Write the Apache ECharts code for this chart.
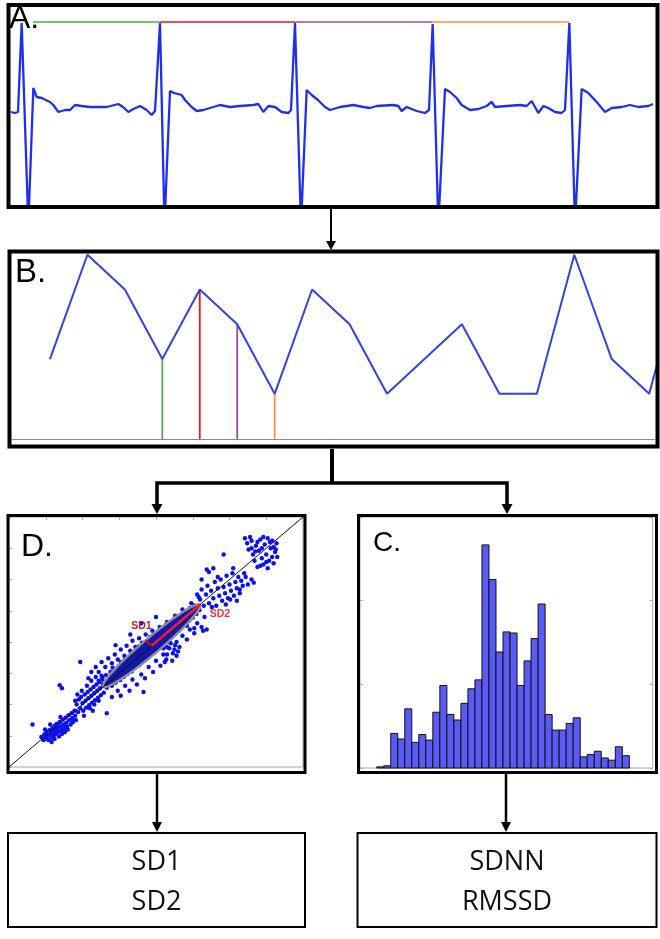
<!DOCTYPE html>
<html><head><meta charset="utf-8">
<script src="https://cdn.jsdelivr.net/npm/echarts@6/dist/echarts.min.js"></script>
<style>html,body{margin:0;padding:0;background:#fff}#c{width:660px;height:939px}</style>
</head><body><div id="c"></div>
<script>
// ---------- DATA ----------
// A. ECG trace: [time ms, amplitude mV]
const ecgTrace = [
[0,-0.02],[24,-0.03],[42,-0.02],[64,0.87],[104,-1.15],[134,0.22],[154,0.13],[184,0.12],[234,0.08],[254,0.05],[284,-0.02],[324,0.00],[354,0.00],[384,0.05],[424,0.04],[474,0.03],[514,0.03],[574,0.03],[644,0.06],[672,0.03],[704,-0.02],[734,0.01],[774,0.04],[814,0.00],[844,-0.05],[864,-0.01],
[894,0.87],[921,-1.15],[954,0.19],[978,0.17],[1024,0.15],[1044,0.10],[1084,0.03],[1114,-0.01],[1154,0.00],[1194,0.02],[1254,0.05],[1314,0.03],[1374,0.04],[1454,0.05],[1484,0.06],[1514,-0.02],[1544,0.04],[1584,0.03],[1624,-0.02],[1664,-0.03],[1680,0.00],
[1704,0.87],[1740,-1.15],[1774,0.20],[1804,0.15],[1842,0.10],[1884,0.03],[1914,0.00],[1974,0.03],[2054,0.05],[2114,0.03],[2154,0.02],[2194,0.04],[2294,0.05],[2324,0.04],[2344,-0.01],[2374,0.03],[2434,-0.01],[2484,-0.03],[2508,0.00],
[2530,0.86],[2564,-1.15],[2604,0.21],[2634,0.18],[2674,0.12],[2704,0.05],[2754,0.00],[2804,0.01],[2854,0.04],[2884,0.08],[2904,0.03],[2974,0.04],[3054,0.05],[3094,0.04],[3124,0.09],[3144,0.03],[3164,-0.03],[3194,0.04],[3224,0.02],[3264,-0.02],[3304,-0.03],[3324,0.00],
[3350,0.87],[3384,-1.15],[3424,0.21],[3464,0.17],[3514,0.08],[3564,-0.02],[3604,0.02],[3664,0.03],[3714,0.05],[3764,0.03],[3824,0.04],[3852,0.06]
];
// RR intervals marked above the ECG (start ms, end ms)
const rrSegments = [[132,894],[894,1704],[1704,2530],[2530,3350]];
const rrColors = ['#4daf4a','#e41a1c','#984ea3','#f7943c'];
const rrMarkerLevel = 0.88;

// B. RR tachogram (ms per beat)
const tachoRR = [800,860,840,800,840,820,780,840,820,780,800,820,780,780,860,800,780,860];
const highlightedBeats = [3,4,5,6];

// D. Poincaré plot: [RR_n, RR_n+1] ms
const poincarePoints = [
[644,648],[647,643],[648,652],[650,646],[651,656],[653,650],[654,643],[655,659],[657,653],[658,647],[659,662],[660,656],[661,650],[662,666],[663,659],[664,653],[665,669],[666,662],[667,656],[668,649],[669,672],[670,665],[671,659],[672,653],[673,676],[674,668],[675,662],[676,656],[677,679],[678,671],[679,665],[680,660],[681,683],[682,675],[684,668],[685,686],[686,678],[687,672],[689,690],[690,682],[691,675],[656,668],[662,645],[670,680],[678,660],[649,660],[658,640],
[632,668],[669,731],[672,726],[697,768],[783,720],[733,686],[708,742],
[692,700],[694,688],[695,708],[697,694],[698,712],[700,702],[701,690],[703,716],[704,706],[705,695],[707,720],[708,710],[709,699],[711,724],[712,714],[713,703],[715,728],[716,718],[717,707],[719,732],[720,722],[721,711],[723,736],[724,726],[725,715],[727,740],[728,730],[729,719],[693,716],[699,722],[706,730],[712,738],[718,744],[702,682],[710,694],[716,700],[722,706],[726,746],[690,706],[714,690],
[722,738],[733,727],[728,733],[727,743],[740,730],[734,736],[732,747],[745,735],[739,742],[738,752],[751,739],[744,745],[741,759],[756,744],[750,750],[749,761],[761,749],[753,757],[752,768],[767,753],[760,761],[758,772],[770,760],[763,766],[764,776],[777,763],[769,772],[766,784],[781,768],[775,776],[773,787],[787,773],[779,782],[777,793],[791,778],[785,785],[783,797],[797,783],[788,791],[789,801],[801,788],[795,796],[792,808],[806,793],[800,801],[798,812],[812,798],[804,806],[803,817],[816,803],[810,810],[808,822],[821,808],[813,816],[813,827],[826,813],[820,821],[819,831],[831,818],[824,826],[825,835],[835,824],[830,831],[829,841],[840,829],[835,835],[835,845],[845,834],[839,842],[841,849],[850,839],[845,845],[846,854],[855,845],[850,851],[852,858],[859,851],
[712,752],[718,760],[722,752],[726,768],[731,760],[735,774],[740,766],[744,780],[748,772],[752,788],[757,778],[760,794],[765,786],[768,802],[772,792],[777,806],[781,799],[786,812],[790,804],[795,818],[800,810],[805,824],[810,818],[815,832],[820,826],[826,842],[830,836],[836,852],[842,848],[848,862],[852,858],[858,872],[745,795],[765,812],[780,830],[800,840],
[740,712],[748,722],[752,714],[758,730],[764,722],[768,740],[774,732],[780,748],[785,742],[790,760],[796,752],[800,770],[806,762],[810,780],[814,772],[818,790],[823,782],[828,800],[832,792],[836,810],[842,804],[846,820],[852,814],[856,830],[862,824],[866,840],
[810,790],[815,780],[820,798],[822,770],[825,788],[828,778],[812,768],[818,800],[826,795],[830,785],[815,792],[842,826],[852,822],[864,818],[869,820],
[856,876],[860,868],[862,884],[865,858],[868,876],[870,890],[872,862],[875,882],[878,870],[880,896],[882,858],[884,886],[886,874],[888,900],[890,866],[892,888],[894,878],[896,906],[898,870],[900,892],[902,882],[904,910],[906,874],[908,896],[910,886],[912,904],[914,878],[916,898],[918,890],[920,910],[869,916],[872,912],[878,918],[892,940],[933,895],[914,884],[901,868],[925,892],[922,904],[905,918],[884,904],[862,900],[876,856],[895,860],[910,866],[930,900],
[921,966],[924,958],[926,948],[930,962],[932,940],[934,930],[936,954],[938,920],[940,946],[942,964],[944,934],[946,924],[948,956],[950,940],[952,966],[954,930],[956,950],[958,962],[960,926],[962,944],[964,958],[965,936],[946,968],[938,960],[930,950],[952,918],[958,936],[944,950],[950,928],[960,952],[935,945],[942,922],[955,960],[963,948],[928,968]
];
const poincareCenter = [794,794];
const poincareSD1 = 12;
const poincareSD2 = 93;

// C. RR histogram
const histBinStart = 600;
const histBinWidth = 10;
const histCounts = [1,2,31,26,53,23,30,25,50,74,48,43,58,71,79,200,169,104,122,121,74,96,116,147,48,34,34,40,45,10,12,15,9,7,19,11];

// Texts
const panelLabels = ['A.','B.','C.','D.'];
const resultsLeft = ['SD1','SD2'];
const resultsRight = ['SDNN','RMSSD'];

// ---------- CHART ----------
const chart = echarts.init(document.getElementById('c'), null, {renderer:'canvas'});
const histData = histCounts.map((c,i)=>[histBinStart+i*histBinWidth, histBinStart+(i+1)*histBinWidth, c]);
const tachoData = tachoRR.map((v,i)=>[i,v]);
const tachoMin = 754;
const fitData = [[poincareCenter[0],poincareCenter[1],poincareSD1,poincareSD2]];
const LF = '"Liberation Sans", Arial, sans-serif';
const BF = '"Open Sans", "Noto Sans", sans-serif';

function ellipsePoints(api){
  const cx=api.value(0), cy=api.value(1), s1=api.value(2), s2=api.value(3);
  const r=Math.SQRT1_2, pts=[];
  for(let k=0;k<=96;k++){const t=k/96*2*Math.PI;const a=s2*Math.cos(t), b=s1*Math.sin(t);
    pts.push(api.coord([cx+(a-b)*r, cy+(a+b)*r]));}
  return pts;
}

const series = [];
// A
series.push({type:'line', xAxisIndex:0, yAxisIndex:0, data:ecgTrace, showSymbol:false, silent:true,
  lineStyle:{color:'#1f2ff0', width:2.3}, clip:true, z:2});
rrSegments.forEach((s,k)=>series.push({type:'line', xAxisIndex:0, yAxisIndex:0,
  data:[[s[0],rrMarkerLevel],[s[1],rrMarkerLevel]], showSymbol:false, silent:true,
  lineStyle:{color:rrColors[k], width:1.6}, z:3}));
// B
highlightedBeats.forEach((b,k)=>series.push({type:'line', xAxisIndex:1, yAxisIndex:1,
  data:[[b,tachoMin],[b,tachoRR[b]]], showSymbol:false, silent:true,
  lineStyle:{color:rrColors[k], width:1.8}, z:2}));
series.push({type:'line', xAxisIndex:1, yAxisIndex:1, data:tachoData, showSymbol:false, silent:true,
  lineStyle:{color:'#3242e6', width:2}, clip:true, z:3});
// D
series.push({type:'custom', xAxisIndex:2, yAxisIndex:2, silent:true, z:1, data:fitData,
  renderItem:function(params, api){
    return {type:'polygon', shape:{points:ellipsePoints(api)}, style:{fill:'#16208e', stroke:'none'}};
  }});
series.push({type:'scatter', xAxisIndex:2, yAxisIndex:2, data:poincarePoints, symbolSize:4.4, silent:true,
  itemStyle:{color:'#0a10f2', opacity:1}, z:2});
series.push({type:'custom', xAxisIndex:2, yAxisIndex:2, silent:true, z:3, data:fitData,
  renderItem:function(params, api){
    return {type:'polygon', shape:{points:ellipsePoints(api)}, style:{fill:'rgba(20,26,140,0.4)', stroke:'#8f8f8f', lineWidth:2.4}};
  }});
series.push({type:'line', xAxisIndex:2, yAxisIndex:2, data:[[600,600],[1000,1000]], showSymbol:false, silent:true,
  lineStyle:{color:'#111', width:1}, z:4});
series.push({type:'custom', xAxisIndex:2, yAxisIndex:2, silent:true, z:5, data:fitData,
  renderItem:function(params, api){
    const cx=api.value(0), cy=api.value(1), s1=api.value(2), s2=api.value(3), r=Math.SQRT1_2;
    const c=api.coord([cx,cy]), e2=api.coord([cx+s2*r, cy+s2*r]), e1=api.coord([cx-s1*r, cy+s1*r]);
    return {type:'group', children:[
      {type:'line', shape:{x1:c[0],y1:c[1],x2:e2[0],y2:e2[1]}, style:{stroke:'#f01d28', lineWidth:2.6}},
      {type:'line', shape:{x1:c[0],y1:c[1],x2:e1[0],y2:e1[1]}, style:{stroke:'#c8161e', lineWidth:2.2}},
      {type:'text', x:e1[0]-4, y:e1[1]-14, style:{text:'SD1', fill:'#b51f2a', fontSize:10.5, fontWeight:'bold', fontFamily:LF, align:'center', verticalAlign:'middle'}},
      {type:'text', x:e2[0]+20, y:e2[1]+9, style:{text:'SD2', fill:'#f2343f', fontSize:10.5, fontWeight:'bold', fontFamily:LF, align:'center', verticalAlign:'middle'}}
    ]};
  }});
// C
series.push({type:'custom', xAxisIndex:3, yAxisIndex:3, silent:true, data:histData, z:2,
  renderItem:function(params, api){
    const p0=api.coord([api.value(0),0]), p1=api.coord([api.value(1),api.value(2)]);
    return {type:'rect', shape:{x:p0[0], y:p1[1], width:p1[0]-p0[0], height:p0[1]-p1[1]},
      style:{fill:'#5a5af6', stroke:'#111', lineWidth:1}};
  }});

const hidden = {show:false};
const faintTick = {show:true, inside:true, length:3, lineStyle:{color:'#aaa'}};
const option = {
  animation:false,
  backgroundColor:'#fff',
  grid:[
    {left:11, top:8, width:642, height:196},
    {left:12.5, top:251.3, width:642.3, height:187.7},
    {left:9, top:517, width:294, height:250, show:true, borderColor:'#a8a8a8', borderWidth:1},
    {left:360, top:517, width:292.7, height:251, show:true, borderColor:'#a8a8a8', borderWidth:1}
  ],
  xAxis:[
    {gridIndex:0, type:'value', min:0, max:3852, axisLine:hidden, axisTick:hidden, axisLabel:hidden, splitLine:hidden},
    {gridIndex:1, type:'value', min:-1, max:16.15, axisLine:{show:true, onZero:false, lineStyle:{color:'#8a8a8a', width:1}}, axisTick:hidden, axisLabel:hidden, splitLine:hidden},
    {gridIndex:2, type:'value', position:'top', min:600, max:1000, interval:50, axisLine:hidden, axisTick:faintTick, axisLabel:hidden, splitLine:hidden},
    {gridIndex:3, type:'value', min:576.2, max:993.3, axisLine:hidden, axisTick:hidden, axisLabel:hidden, splitLine:hidden}
  ],
  yAxis:[
    {gridIndex:0, type:'value', min:-0.94, max:1.02, axisLine:hidden, axisTick:hidden, axisLabel:hidden, splitLine:hidden},
    {gridIndex:1, type:'value', min:tachoMin, max:862, axisLine:hidden, axisTick:hidden, axisLabel:hidden, splitLine:hidden},
    {gridIndex:2, type:'value', min:600, max:1000, interval:50, axisLine:hidden, axisTick:faintTick, axisLabel:hidden, splitLine:hidden},
    {gridIndex:3, type:'value', min:0, max:225, interval:75, axisLine:hidden, axisTick:faintTick, axisLabel:hidden, splitLine:hidden},
    {gridIndex:3, type:'value', position:'right', min:0, max:225, interval:75, axisLine:hidden, axisTick:faintTick, axisLabel:hidden, splitLine:hidden}
  ],
  series:series,
  graphic:[
    // panel boxes
    {type:'rect', z:100, shape:{x:8.5, y:5, width:649, height:202}, style:{fill:'none', stroke:'#000', lineWidth:4}},
    {type:'rect', z:100, shape:{x:9.5, y:251.5, width:648, height:195}, style:{fill:'none', stroke:'#000', lineWidth:4}},
    {type:'rect', z:100, shape:{x:8, y:515.5, width:297, height:257}, style:{fill:'none', stroke:'#000', lineWidth:3}},
    {type:'rect', z:100, shape:{x:358.5, y:515.5, width:298, height:257}, style:{fill:'none', stroke:'#000', lineWidth:3}},
    {type:'rect', z:100, shape:{x:8, y:833, width:297, height:94}, style:{fill:'none', stroke:'#000', lineWidth:2}},
    {type:'rect', z:100, shape:{x:357.5, y:833, width:299, height:94}, style:{fill:'none', stroke:'#000', lineWidth:2}},
    // connectors
    {type:'line', z:100, shape:{x1:331, y1:209, x2:331, y2:243}, style:{stroke:'#000', lineWidth:2}},
    {type:'polygon', z:100, shape:{points:[[326,241],[336,241],[331,250]]}, style:{fill:'#000'}},
    {type:'line', z:100, shape:{x1:332, y1:449, x2:332, y2:484}, style:{stroke:'#000', lineWidth:4}},
    {type:'polyline', z:100, shape:{points:[[157,506],[157,483],[507,483],[507,506]]}, style:{stroke:'#000', lineWidth:3.5, fill:'none'}},
    {type:'polygon', z:100, shape:{points:[[151.5,504],[162.5,504],[157,514]]}, style:{fill:'#000'}},
    {type:'polygon', z:100, shape:{points:[[501.5,504],[512.5,504],[507,514]]}, style:{fill:'#000'}},
    {type:'line', z:100, shape:{x1:157, y1:774, x2:157, y2:824}, style:{stroke:'#000', lineWidth:2.5}},
    {type:'polygon', z:100, shape:{points:[[152,822],[162,822],[157,832]]}, style:{fill:'#000'}},
    {type:'line', z:100, shape:{x1:506, y1:774, x2:506, y2:824}, style:{stroke:'#000', lineWidth:2.5}},
    {type:'polygon', z:100, shape:{points:[[501,822],[511,822],[506,832]]}, style:{fill:'#000'}},
    // panel labels
    {type:'text', z:101, x:9, y:19, style:{text:panelLabels[0], fill:'#000', fontSize:32, fontFamily:LF, align:'left', verticalAlign:'middle'}},
    {type:'text', z:101, x:15, y:273, style:{text:panelLabels[1], fill:'#000', fontSize:33, fontFamily:LF, align:'left', verticalAlign:'middle'}},
    {type:'text', z:101, x:373, y:543, style:{text:panelLabels[2], fill:'#000', fontSize:28, fontFamily:LF, align:'left', verticalAlign:'middle'}},
    {type:'text', z:101, x:21, y:547, style:{text:panelLabels[3], fill:'#000', fontSize:32, fontFamily:LF, align:'left', verticalAlign:'middle'}},
    // results
    {type:'text', z:101, x:156.5, y:862, style:{text:resultsLeft[0], fill:'#111', fontSize:27, fontFamily:BF, align:'center', verticalAlign:'middle'}},
    {type:'text', z:101, x:156.5, y:902, style:{text:resultsLeft[1], fill:'#111', fontSize:27, fontFamily:BF, align:'center', verticalAlign:'middle'}},
    {type:'text', z:101, x:507, y:862, style:{text:resultsRight[0], fill:'#111', fontSize:27, fontFamily:BF, align:'center', verticalAlign:'middle'}},
    {type:'text', z:101, x:507, y:902, style:{text:resultsRight[1], fill:'#111', fontSize:27, fontFamily:BF, align:'center', verticalAlign:'middle'}}
  ]
};
chart.setOption(option);
</script></body></html>
